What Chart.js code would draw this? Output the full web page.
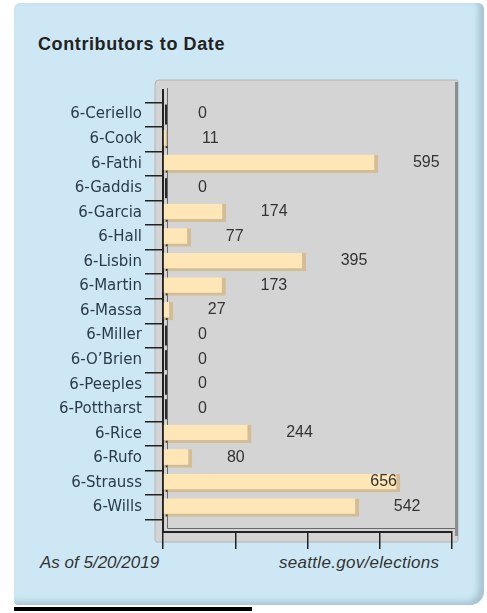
<!DOCTYPE html>
<html>
<head>
<meta charset="utf-8">
<script src="https://cdn.jsdelivr.net/npm/chart.js@4"></script>
<style>
    body { margin: 0; background: #fff; width: 487px; height: 613px; overflow: hidden; position: relative; }
    #panel {
        position: absolute; left: 14px; top: 3px; width: 470px; height: 602px;
        background: #cde8f4; border-radius: 6px 6px 14px 4px;
        box-shadow: inset -5px -3px 6px rgba(90, 120, 140, 0.35);
    }
    #rule { position: absolute; left: 14px; top: 607px; width: 238px; height: 4px; background: #000; }
    .txt { position: absolute; font-family: "Liberation Sans", Arial, sans-serif; white-space: nowrap; line-height: 1; }
    #title { left: 38px; top: 35px; font-size: 18px; font-weight: bold; letter-spacing: 0.6px; color: #222; }
    #asof { left: 40px; top: 554px; font-size: 17px; font-style: italic; color: #333; }
    #source { left: 279px; top: 554px; font-size: 17px; font-style: italic; color: #333; letter-spacing: 0.3px; }
    canvas { position: absolute; left: 0; top: 0; }
</style>
</head>
<body>
<div id="panel"></div>
<div id="rule"></div>
<div class="txt" id="title">Contributors to Date</div>
<div class="txt" id="asof">As of 5/20/2019</div>
<div class="txt" id="source">seattle.gov/elections</div>
<canvas id="contribChart" width="487" height="613"></canvas>
<script>
// Contributors per candidate
const contributors = [
    '6-Ceriello', '6-Cook', '6-Fathi', '6-Gaddis', '6-Garcia', '6-Hall', '6-Lisbin', '6-Martin', '6-Massa',
    '6-Miller', '6-O\u2019Brien', '6-Peeples', '6-Pottharst', '6-Rice', '6-Rufo', '6-Strauss', '6-Wills'
];
const contributions = [0, 11, 595, 0, 174, 77, 395, 173, 27, 0, 0, 0, 0, 244, 80, 656, 542];

// x axis tick marks (no labels shown)
const xMax = 800;
const xStep = 200;

buildContribChart();

function buildContribChart() {
    const ctx = document.getElementById('contribChart');

    // empty slot above and below so the axis ends one row past the names
    const labels = [''].concat(contributors, ['']);
    const values = [null].concat(contributions, [null]);

    // gray 3d box behind the bars
    const boxPlugin = {
        id: 'box',
        beforeDraw(chart) {
            const a = chart.chartArea;
            const c = chart.ctx;
            c.save();
            c.fillStyle = '#d4d4d4';
            c.strokeStyle = '#b4b4b4';
            c.lineWidth = 1;
            c.beginPath();
            c.roundRect(a.left - 8, a.top - 10, a.right - a.left + 14, a.bottom - a.top + 20, [4, 2, 2, 2]);
            c.fill();
            c.stroke();
            c.fillStyle = '#8e8e8e';
            c.fillRect(a.right + 3, a.top - 8, 3, a.bottom - a.top + 12);
            // back wall edges
            c.strokeStyle = '#6a6a6a';
            c.beginPath();
            c.moveTo(a.left + 4.5, a.top - 2);
            c.lineTo(a.left + 4.5, a.bottom - 3.5);
            c.lineTo(a.right + 3, a.bottom - 3.5);
            c.stroke();
            c.restore();
        }
    };

    // zero markers and value labels
    const valuePlugin = {
        id: 'values',
        afterDatasetsDraw(chart) {
            const c = chart.ctx;
            const a = chart.chartArea;
            const meta = chart.getDatasetMeta(0);
            c.save();
            c.font = '16px "Liberation Sans", Arial, sans-serif';
            c.textBaseline = 'middle';
            meta.data.forEach((bar, i) => {
                const v = values[i];
                if (v === null) return;
                if (v === 0) {
                    c.fillStyle = '#2a2a2a';
                    c.fillRect(bar.base + 2, bar.y - 10, 2, 20);
                } else {
                    c.fillStyle = '#3a3a3a';
                    c.fillRect(bar.base + 2, bar.y + 7, 2, 2);
                }
                c.fillStyle = '#333';
                const text = String(v);
                const w = c.measureText(text).width;
                let x = bar.x + 35;
                if (x + w > a.right - 8) x = bar.x - w - 3;
                c.fillText(text, x, bar.y - 1);
            });
            c.restore();
        }
    };

    // @ts-ignore
    new Chart(ctx, {
        type: 'bar',
        data: {
            labels: labels,
            datasets: [
                {
                    data: values,
                    backgroundColor: '#ffe6b6',
                    borderColor: '#d3bd96',
                    borderWidth: { top: 0, right: 4, bottom: 3, left: 0 },
                    borderSkipped: false,
                    barThickness: 18
                }
            ]
        },
        options: {
            responsive: false,
            animation: false,
            indexAxis: 'y',
            layout: {
                padding: { top: 90, right: 35, bottom: 0, left: 0 }
            },
            scales: {
                x: {
                    min: 0,
                    max: xMax,
                    ticks: { stepSize: xStep, display: false },
                    grid: { drawOnChartArea: false, tickLength: 17, color: '#222', lineWidth: 1.5 },
                    border: { color: '#222', width: 2 },
                    afterFit(scale) { scale.height = 81; }
                },
                y: {
                    offset: false,
                    ticks: {
                        autoSkip: false,
                        padding: 3,
                        color: '#2b3a48',
                        font: { family: '"DejaVu Sans"', size: 15 }
                    },
                    grid: { drawOnChartArea: false, tickLength: 18, color: '#222', lineWidth: 1.5 },
                    border: { color: '#222', width: 2 },
                    afterFit(scale) { scale.width = 163; }
                }
            },
            plugins: {
                legend: { display: false },
                tooltip: { enabled: false }
            }
        },
        plugins: [boxPlugin, valuePlugin]
    });
}
</script>
</body>
</html>
